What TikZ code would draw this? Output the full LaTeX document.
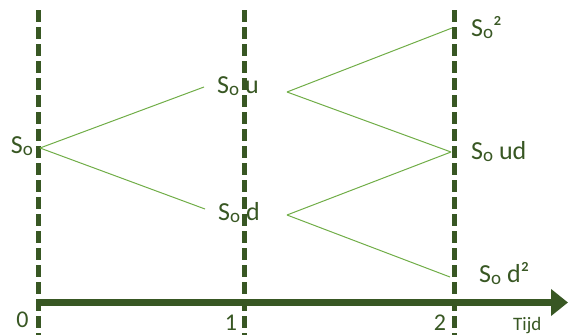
\documentclass[tikz,border=0pt]{standalone}
\usepackage{fontspec}
\setmainfont{Carlito}
\usepackage{xcolor}
\usetikzlibrary{arrows.meta, positioning}

\definecolor{darkgreen}{HTML}{385723}
\definecolor{lightgreen}{HTML}{70AD47}
\newcommand{\So}{S\raisebox{-2.5pt}{\fontsize{19pt}{20pt}\selectfont o}}

\begin{document}
\begin{tikzpicture}[
    x=1pt, y=-1pt,
    lbl/.style={inner sep=0pt, text=darkgreen, font=\fontsize{26pt}{30pt}\selectfont},
    timeline/.style={darkgreen, line width=5pt, dash pattern=on 12pt off 5pt},
    branch/.style={lightgreen, line width=1pt},
    >=Stealth
]
    \useasboundingbox (0,0) rectangle (568,335);

    % time lines
    \coordinate (t0top) at (38,10);  \coordinate (t0bot) at (38,335);
    \coordinate (t1top) at (244,10); \coordinate (t1bot) at (244,335);
    \coordinate (t2top) at (454,10); \coordinate (t2bot) at (454,335);
    \draw[timeline] (t0top) -- (t0bot);
    \draw[timeline] (t1top) -- (t1bot);
    \draw[timeline] (t2top) -- (t2bot);

    % axis
    \coordinate (ax0) at (38,302.5);
    \coordinate (axend) at (568,302.5);
    \draw[darkgreen, line width=7pt, -{Triangle[length=17pt, width=26pt]}] (ax0) -- (axend);

    % labels
    \node[lbl, anchor=base east] (s0) at (33,153) {\So};
    \node[lbl, anchor=base west] (s0u) at (217,93) {\So{} u};
    \node[lbl, anchor=base west] (s0d) at (218,220) {\So{} d};
    \node[lbl, anchor=base west] (s0uu) at (471,36) {\So²};
    \node[lbl, anchor=base west] (s0ud) at (471,159) {\So{} ud};
    \node[lbl, anchor=base west] (s0dd) at (479,282) {\So{} d²};

    \node[lbl, anchor=base, font=\fontsize{24pt}{28pt}\selectfont] (n0) at (22.5,327) {0};
    \node[lbl, anchor=base, font=\fontsize{24pt}{28pt}\selectfont] (n1) at (231,330) {1};
    \node[lbl, anchor=base, font=\fontsize{24pt}{28pt}\selectfont] (n2) at (440,330) {2};
    \node[lbl, anchor=base west, font=\fontsize{19pt}{22pt}\selectfont] (tijd) at (513,330) {Tijd};

    % tree points
    \coordinate (p0) at (40,148);
    \coordinate (pu) at (204,87);
    \coordinate (pd) at (205,209);
    \coordinate (qu) at (287,92);
    \coordinate (qd) at (287,215);
    \coordinate (ruu) at (452,28);
    \coordinate (rud) at (451,152);
    \coordinate (rdd) at (450,277);

    \draw[branch] (p0) -- (pu);
    \draw[branch] (p0) -- (pd);
    \draw[branch] (qu) -- (ruu);
    \draw[branch] (qu) -- (rud);
    \draw[branch] (qd) -- (rud);
    \draw[branch] (qd) -- (rdd);
\end{tikzpicture}
\end{document}
